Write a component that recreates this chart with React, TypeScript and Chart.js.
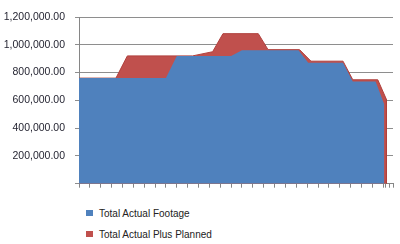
import React, { useEffect, useRef } from "react";
import { Chart, registerables } from "chart.js";

Chart.register(...registerables);

// x positions are in category-tick units (0 = first tick)
const actualX = [0, 8, 9, 14, 15, 20.2, 21.1, 24.3, 25.2, 27.3, 28.1, 28.1];
const actualY = [760000, 760000, 920000, 920000, 960000, 960000, 870000, 870000, 735000, 735000, 570000, 0];

const plannedX = [0, 3.4, 4.45, 10.45, 12.3, 13.25, 16.5, 17.4, 20.3, 21.35, 24.3, 25.2, 27.5, 28.3, 28.3];
const plannedY = [760000, 760000, 920000, 920000, 950000, 1080000, 1080000, 965000, 965000, 882000, 882000, 748000, 748000, 606000, 0];

const xTicks = [0, 1, 2, 3, 4, 5, 6, 7, 8, 9, 10, 11, 12, 13, 14, 15, 16, 17, 18, 19, 20, 21, 22, 23, 24, 25, 26, 27, 28, 28.25, 28.55, 28.9];
const yMax = 1200000;
const yStep = 200000;

const seriesNames = ["Total Actual Footage", "Total Actual Plus Planned"];
const seriesColors = ["#4F81BD", "#C0504D"];

export default function App() {
  const ref = useRef<HTMLCanvasElement>(null);

  useEffect(() => {
    if (!ref.current) return;
    const chart = new Chart(ref.current, {
      type: "line",
      data: {
        datasets: [
          {
            label: seriesNames[0],
            data: actualX.map((x, i) => ({ x, y: actualY[i] })),
            backgroundColor: seriesColors[0],
            borderColor: seriesColors[0],
            borderWidth: 0,
            fill: "origin",
            pointRadius: 0,
            tension: 0,
          },
          {
            label: seriesNames[1],
            data: plannedX.map((x, i) => ({ x, y: plannedY[i] })),
            backgroundColor: seriesColors[1],
            borderColor: "#B0403D",
            borderWidth: 1,
            fill: "origin",
            pointRadius: 0,
            tension: 0,
          },
        ],
      },
      options: {
        responsive: false,
        animation: false,
        layout: { padding: { left: 0, right: 7, top: 17, bottom: 0 } },
        plugins: { legend: { display: false }, tooltip: { enabled: false } },
        scales: {
          x: {
            type: "linear",
            min: 0,
            max: xTicks[xTicks.length - 1],
            afterBuildTicks: (scale: any) => {
              scale.ticks = xTicks.map((v) => ({ value: v }));
            },
            afterFit: (scale: any) => {
              scale.height = 14;
            },
            ticks: { callback: () => "", autoSkip: false },
            grid: { drawOnChartArea: false, drawTicks: true, tickLength: 4, color: "#868686" },
            border: { display: true, color: "#868686" },
          },
          y: {
            min: 0,
            max: yMax,
            afterFit: (scale: any) => {
              scale.width = 79;
            },
            ticks: {
              stepSize: yStep,
              padding: 10,
              color: "#262633",
              font: { family: "Liberation Sans", size: 10.5 },
              callback: (v: any) =>
                Number(v) === 0
                  ? ""
                  : Number(v).toLocaleString("en-US", { minimumFractionDigits: 2, maximumFractionDigits: 2 }),
            },
            grid: { color: "#8E8E8E", tickLength: 4, drawTicks: true },
            border: { display: true, color: "#868686" },
          },
        },
      },
    });
    return () => chart.destroy();
  }, []);

  const legendRow = (i: number, top: number) => (
    <div key={i} style={{ position: "absolute", left: 86, top, height: 14, display: "flex", alignItems: "center" }}>
      <div style={{ width: 7, height: 6, background: seriesColors[i], marginRight: 6 }} />
      <span style={{ font: "10px 'Liberation Sans'", color: "#222", whiteSpace: "nowrap" }}>{seriesNames[i]}</span>
    </div>
  );

  return (
    <div style={{ position: "absolute", left: 0, top: 0, width: 400, height: 244, background: "#fff" }}>
      <canvas ref={ref} width={400} height={200} style={{ position: "absolute", left: 0, top: 0, width: 400, height: 200 }} />
      {legendRow(0, 206)}
      {legendRow(1, 227)}
    </div>
  );
}
